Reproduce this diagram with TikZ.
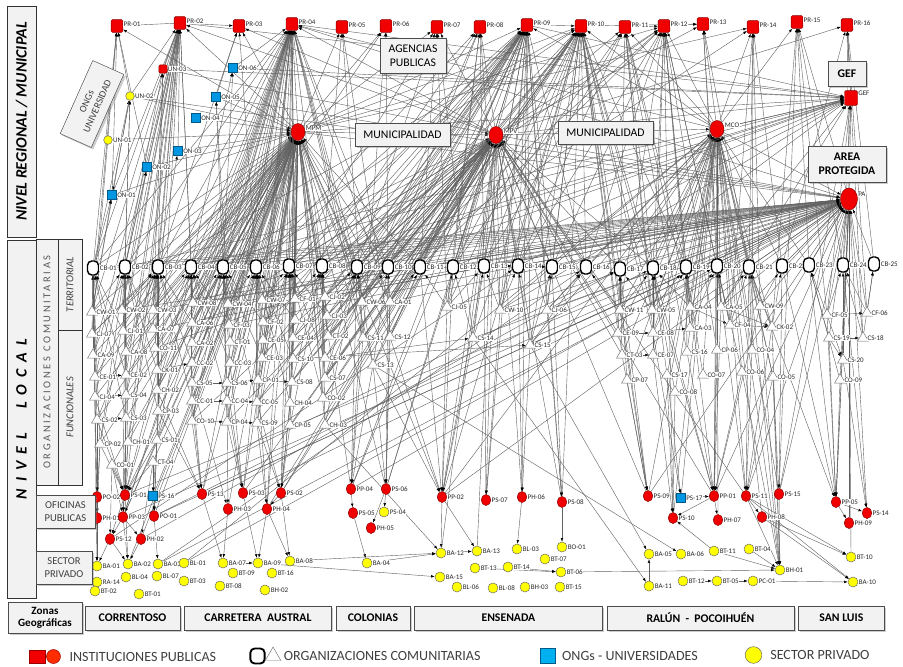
\documentclass[tikz,border=0pt]{standalone}
\usepackage{fontspec}
\setmainfont{Carlito}
\usepackage{tikz}
\usetikzlibrary{arrows.meta,positioning,shapes.geometric,shadows,backgrounds}
\definecolor{instred}{RGB}{240,0,0}
\definecolor{legred}{RGB}{255,45,0}
\definecolor{ongblue}{RGB}{0,150,225}
\definecolor{legblue}{RGB}{0,176,240}
\definecolor{privyellow}{RGB}{255,255,0}
\definecolor{boxgray}{RGB}{242,242,242}
\newcommand{\lblsize}{\fontsize{6}{6}\selectfont}

\begin{document}
\begin{tikzpicture}[x=0.3mm, y=-0.3mm,
  lbl/.style={font=\lblsize, inner sep=0.3pt, fill=white, text=black!85},
  prsq/.style={rectangle, draw=red!55!black, fill=instred, minimum width=3.5mm, minimum height=3.8mm, inner sep=0, rounded corners=0.4mm},
  hub/.style={ellipse, draw=red!55!black, fill=instred, minimum width=4.2mm, minimum height=5.1mm, inner sep=0},
  ofi/.style={ellipse, draw=red!55!black, fill=instred, minimum width=2.9mm, minimum height=3.3mm, inner sep=0},
  ong/.style={rectangle, draw=ongblue!60!black, fill=ongblue, minimum size=2.7mm, inner sep=0},
  priv/.style={circle, draw=black!60, fill=privyellow, minimum size=3mm, inner sep=0},
  cbx/.style={rectangle, draw=black, line width=1.2pt, fill=white, rounded corners=1.3mm, minimum width=3.3mm, minimum height=4.2mm, inner sep=0},
  tri/.style={regular polygon, regular polygon sides=3, draw=black!55, fill=white, minimum size=3.8mm, inner sep=0},
  lnk/.style={draw=black!62, line width=0.35pt, -{Latex[length=1.1mm,width=0.8mm,color=black]}},
  tag/.style={draw=black!70, fill=boxgray, align=center, inner sep=1pt, font=\fontsize{10}{12}\selectfont, drop shadow={shadow xshift=0.6mm, shadow yshift=-0.6mm, opacity=0.4}},
  side/.style={draw=black!80, fill=boxgray, inner sep=0, align=center},
  zone/.style={tag, font=\bfseries\fontsize{10}{12}\selectfont, minimum height=7.2mm},
  legtxt/.style={font=\fontsize{12}{14}\selectfont, text=black!75, inner sep=0}]
\useasboundingbox (0,0) rectangle (903,666);

% regional level
\foreach \n/\x/\y in {01/117/26,02/180/23,03/239/26,04/292/24,05/342/27,06/386/26,07/437/27,08/480/27,
  09/527/25,10/581/26,11/625/27,12/664/26,13/703/24,14/753/27,15/797/22,16/847/25}
  \node[prsq, label={[lbl, yshift=1.5pt]east:PR-\n}] (PR\n) at (\x,\y) {};
\node[prsq, minimum width=2.5mm, minimum height=2.5mm, label={[lbl]east:UN-03}] (UN03) at (163,69) {};
\node[priv, minimum size=2.6mm, label={[lbl]east:UN-02}] (UN02) at (130,96) {};
\node[priv, minimum size=2.6mm, label={[lbl]east:UN-01}] (UN01) at (108,140) {};
\foreach \n/\x/\y in {01/112/195,02/147/167,03/178/151,04/196/118,05/216/97,06/233/68}
  \node[ong, label={[lbl]east:ON-\n}] (ON\n) at (\x,\y) {};
\node[hub, label={[lbl, yshift=3pt]east:MPM}] (MPM) at (298,132) {};
\node[hub, label={[lbl, yshift=3pt]east:MPV}] (MPV) at (496,135) {};
\node[hub, label={[lbl, yshift=3pt]east:MCO}] (MCO) at (717,129) {};
\node[prsq, minimum width=3.9mm, minimum height=4.4mm, label={[lbl, yshift=4pt]east:GEF}] (GEF) at (851,98) {};
\node[hub, minimum width=5.1mm, minimum height=6.6mm, label={[lbl, yshift=4pt]east:PA}] (PA) at (849,199) {};

% local level: territorial
\foreach \n/\x/\y in {01/93/268,02/125/267,03/158/267,04/191/267,05/223/267,06/256/267,07/289/266,
  08/322/266,09/357/267,10/388/267,11/420/267,12/453/267,13/484/266,14/518/266,15/552/267,16/586/267,
  17/620/269,18/653/268,19/686/267,20/717/266,21/749/267,22/782/266,23/809/265,24/843/265,25/874/264}
  \node[cbx, label={[lbl]east:CB-\n}] (CB\n) at (\x,\y) {};

% local level: functional
\foreach \c/\n/\x/\y in {CW/01/92/312,CJ/07/92/334,CA/09/93/355,CE/01/95/377,CJ/04/95/397,CS/02/97/420,CP/02/100/444,
  CW/02/122/310,CJ/01/123/331,CA/08/126/352,CE/02/126/375,CS/04/126/395,CS/03/126/418,CH/01/128/442,
  CW/03/153/310,CA/07/153/329,CO/11/155/348,CK/01/157/370,CH/02/157/390,CP/03/158/411,CS/01/157/440,
  CO/01/112/465,CT/04/153/462,
  CW/08/193/303,CA/06/192/323,CA/02/192/343,CC/02/192/363,CS/05/192/383,CC/01/192/401,CO/10/192/421,
  CW/04/228/304,CF/03/229/325,CT/01/230/342,CC/03/230/363,CS/06/227/383,CC/04/227/401,CP/04/227/422,
  CW/07/262/300,CF/02/263/322,CE/05/263/340,CE/03/262/358,CP/01/258/380,CC/05/257/402,CS/09/257/423,
  CF/01/295/299,CJ/08/295/320,CE/04/293/338,CS/10/293/359,CS/08/292/382,CH/04/290/403,CP/05/290/425,
  CJ/02/325/297,CJ/03/327/316,CT/02/328/336,CE/06/325/358,CS/07/325/378,CO/02/323/398,CH/03/325/425,
  CW/06/362/302,CA/01/390/302,CS/11/363/338,CS/12/390/337,CS/13/373/365,
  CJ/05/447/307,CS/14/473/338,CW/10/500/310,CJ/06/547/310,CS/15/530/345,
  CW/11/620/310,CW/05/652/310,CA/04/690/307,CA/05/721/307,CW/09/760/306,
  CE/09/618/333,CE/08/653/333,CA/03/690/328,CF/04/730/325,CK/02/772/327,
  CT/03/622/355,CE/07/653/355,CS/16/687/352,CP/06/717/350,CO/04/752/350,
  CS/17/667/375,CO/07/703/375,CO/06/742/372,CO/05/773/377,CP/07/627/380,CO/08/675/392,
  CF/05/827/315,CF/06/867/313,CS/19/829/338,CS/18/863/338,CS/20/843/360,CO/09/840/380}
  \node[tri, label={[lbl]east:\c-\n}] (\c\n) at (\x,\y) {};

% public offices
\foreach \c/\n/\x/\y in {PO/02/97/497,PS/01/125/495,PH/01/97/518,PP/03/123/517,PO/01/154/516,PS/12/110/539,
  PH/02/141/539,PS/13/202/494,PS/03/243/493,PS/02/281/493,PH/03/228/509,PH/04/267/509,PP/04/351/489,
  PS/06/386/489,PS/05/353/513,PH/05/371/528,PP/02/442/497,PS/07/486/500,PH/06/522/497,PS/08/562/502,
  PS/09/648/496,PP/01/714/496,PS/11/746/496,PS/15/779/494,PS/10/673/518,PH/07/718/520,PH/08/762/517,
  PP/05/836/502,PS/14/867/513,PH/09/849/523}
  \node[ofi, label={[lbl]east:\c-\n}] (\c\n) at (\x,\y) {};
\node[ong, label={[lbl]east:PS-16}] (PS16) at (153,496) {};
\node[ong, label={[lbl]east:PS-17}] (PS17) at (681,498) {};
\node[priv, label={[lbl]east:PS-04}] (PS04) at (384,512) {};

% private sector
\foreach \c/\n/\x/\y in {BA/01/97/566,BA/02/128/564,BA/03/158/564,BL/01/184/563,BA/07/223/563,BA/09/258/563,
  BA/08/290/561,RA/14/97/582,BL/04/126/577,BL/07/157/576,BT/03/184/581,BT/09/233/573,BT/16/272/573,
  BT/02/95/591,BT/01/139/594,BT/08/220/586,BH/02/265/590,BA/04/367/563,BA/12/441/553,BA/13/477/551,
  BL/03/517/549,BO/01/562/547,BT/07/545/559,BT/13/475/568,BT/14/508/567,BT/06/561/572,BA/15/440/577,
  BL/06/457/587,BL/08/493/588,BH/03/525/587,BT/15/560/587,BA/05/649/554,BA/06/681/554,BT/11/714/551,
  BT/04/749/549,BH/01/780/570,BT/10/851/557,BA/11/649/586,BT/12/683/581,BT/05/717/581,PC/01/753/581,
  BA/10/853/582}
  \node[priv, label={[lbl]east:\c-\n}] (\c\n) at (\x,\y) {};

% labels of the picture
\node[tag, minimum width=19.8mm, minimum height=10.5mm] (agen) at (413,55.5) {AGENCIAS\\PUBLICAS};
\node[tag, minimum width=28.5mm, minimum height=6.9mm] (muni1) at (402.5,134.5) {MUNICIPALIDAD};
\node[tag, minimum width=28.5mm, minimum height=6.9mm] (muni2) at (605.5,132.5) {MUNICIPALIDAD};
\node[tag, font=\bfseries\fontsize{10}{12}\selectfont, minimum width=11.4mm, minimum height=7.5mm] (gefbox) at (847,73.5) {GEF};
\node[tag, font=\bfseries\fontsize{10}{12}\selectfont, minimum width=23.4mm, minimum height=10.8mm] (areabox) at (847,164) {AREA\\PROTEGIDA};
\node[tag, rotate=66, text=black!75, font=\fontsize{8.5}{10}\selectfont, minimum width=24mm, minimum height=10.2mm] (ongbox) at (92,104) {ONGs\\UNIVERSIDAD};

% side column
\node[side, rotate=90, minimum width=69.3mm, minimum height=8.7mm, font=\bfseries\itshape\fontsize{13.5}{14}\selectfont] (nreg) at (21.5,121.5) {NIVEL REGIONAL / MUNICIPAL};
\node[side, rotate=90, minimum width=107.4mm, minimum height=8.7mm, font=\bfseries\itshape\fontsize{13.5}{14}\selectfont\addfontfeature{LetterSpace=45}] (nloc) at (21.5,419) {NIVEL\hspace{4mm} LOCAL};
\node[side, rotate=90, minimum width=73.8mm, minimum height=6.6mm, text=black!65, font=\fontsize{9}{10}\selectfont\addfontfeature{LetterSpace=25}] (norg) at (47,362) {ORGANIZACIONES COMUNITARIAS};
\node[side, rotate=90, minimum width=27.3mm, minimum height=7.2mm, text=black!75, font=\itshape\fontsize{9}{10}\selectfont] (nter) at (70,284.5) {TERRITORIAL};
\node[side, rotate=90, minimum width=46.5mm, minimum height=7.2mm, text=black!75, font=\itshape\fontsize{9}{10}\selectfont] (nfun) at (70,407.5) {FUNCIONALES};
\node[tag, text=black!75, font=\fontsize{9}{10.5}\selectfont, minimum width=17.7mm, minimum height=9.9mm] (nofi) at (65.5,511.5) {OFICINAS\\PUBLICAS};
\node[tag, text=black!75, font=\fontsize{9}{10.5}\selectfont, minimum width=16.8mm, minimum height=9.9mm] (npri) at (64,567.5) {SECTOR\\PRIVADO};

% geographic zones
\node[tag, font=\bfseries\fontsize{9.5}{10.5}\selectfont, minimum width=22.2mm, minimum height=9.3mm] (zonas) at (45,617.5) {Zonas\\Geográficas};
\node[zone, minimum width=28.5mm] (zcor) at (132.5,618) {CORRENTOSO};
\node[zone, minimum width=44.1mm, right=1.2mm of zcor] (zcar) {CARRETERA\ \ AUSTRAL};
\node[zone, minimum width=22.2mm, right=1.2mm of zcar] (zcol) {COLONIAS};
\node[zone, minimum width=56.4mm, right=1.2mm of zcol] (zens) {ENSENADA};
\node[zone, minimum width=56.1mm, right=1.2mm of zens] (zral) {RALÚN\ \ -\ \ POCOIHUÉN};
\node[zone, minimum width=25.8mm, right=1.2mm of zral] (zsan) {SAN LUIS};

% legend
\node[rectangle, fill=instred, draw=red!60!black, minimum width=4.8mm, minimum height=4mm, inner sep=0] (legsq) at (37,656.5) {};
\node[circle, fill=legred, draw=red!60!black, minimum size=4.2mm, inner sep=0, right=0.3mm of legsq] (legci) {};
\node[legtxt, right=2.6mm of legci] (legins) {INSTITUCIONES PUBLICAS};
\node[cbx, line width=1.6pt, minimum width=4.3mm, minimum height=4.5mm] (legcb) at (257.5,656) {};
\node[tri, minimum size=5.4mm, right=0.6mm of legcb] (legtri) {};
\node[legtxt, right=1.5mm of legtri] (legorg) {ORGANIZACIONES COMUNITARIAS};
\node[ong, fill=legblue, minimum size=4.5mm] (legong) at (547.5,656) {};
\node[legtxt, right=2mm of legong] (legongt) {ONGs - UNIVERSIDADES};
\node[priv, minimum size=5mm] (legpriv) at (753.5,655) {};
\node[legtxt, right=2.4mm of legpriv] (legprivt) {SECTOR PRIVADO};

% links: target/{sources}
\begin{scope}[on background layer]
\fill[white] (0,0) rectangle (903,666);
\foreach \t/\srcs in {
  MPM/{CB01,CB02,CB03,CB04,CB05,CB06,CB07,CB08,CB09,CB10,CB11,CW01,CW02,CW03,CW08,CW04,CW07,CF01,CJ07,CJ01,CA07,CA06,CF03,CF02,CJ08,CA09,CA08,CO11,CA02,CT01,CE05,CE04,CE01,CE02,CK01,CC02,CC03,CE03,CS10,CJ04,CS04,CH02,CS05,CS06,CP01,CS08,CS02,CS03,CP03,CC01,CC04,CC05,CH04,CP02,CH01,CS01,CO10,CP04,CS09,CP05,CO01,CT04,CJ02,CJ03,CT02,CE06,CS07,CO02,CH03,CW06,CA01,CS11,CS12,PS01,PP03,PS13,PS03,PS02,PH03,PH04,PO01,PS16,PH02,PP04,PS06,PP02,BA02,UN01,UN02,ON01,ON02,ON03,ON04,ON05},
  MPV/{CB05,CB06,CB07,CB08,CB09,CB10,CB11,CB12,CB13,CB14,CB15,CB16,CB17,CB18,CW04,CW07,CF01,CJ02,CJ03,CT02,CE06,CS07,CH03,CO02,CW06,CA01,CS11,CS12,CS13,CJ05,CS14,CW10,CJ06,CS15,CW11,CE09,CT03,CF02,CE04,CS10,CS08,CP05,CC05,CS09,PP02,PS07,PH06,PS08,PP04,PS06,PS09,PP01,PS02,PS03,PH04,BA12,BA13,PS11,CP04,CO10,MPM,UN03},
  MCO/{CB16,CB17,CB18,CB19,CB20,CB21,CB22,CB23,CW11,CW05,CA04,CA05,CW09,CE09,CE08,CA03,CF04,CK02,CT03,CE07,CS16,CP06,CO04,CS17,CO07,CO06,CO05,CP07,CO08,PS09,PP01,PS11,PS15,PS10,PH07,PH08,BH01,PS17,CJ06,CS15,CW10,MPV,BL01,PP02},
  PA/{CB01,CB02,CB03,CB04,CB05,CB06,CB07,CB08,CB09,CB10,CB11,CB12,CB13,CB14,CB15,CB16,CB17,CB18,CB19,CB20,CB21,CB22,CB23,CB24,CB25,CW02,CW03,CW08,CW04,CA07,CF03,CF01,CJ02,CA01,CJ05,CW10,CJ06,CW11,CW05,CA04,CA05,CW09,CF05,CF06,CS19,CS18,CS20,CO09,CK02,CF04,CS14,CS15,MPM,MPV,MCO,PP05,PS14,PS15,PH09,BT10,PS11,PP01,PS01,PS13,PP03,PS03,PP02,PP04,PS09,UN02,ON05,BA03,PO01},
  GEF/{MPM,MPV,MCO,PA,PR02,PR04,CB04,CB07,CB12,CB14,CB17,CB20,CB24,CW08,CA06,CW10,CA05,CF05,ON06,UN03,CO11,PS15,PR09,CB02},
  PR01/{PR02,ON01,CB01,CW01,UN02,CJ07,MPM,ON02},
  PR02/{UN03,UN02,ON01,ON02,ON03,CB01,CB02,CB03,CW01,CW02,CW03,CA09,CJ01,CE02,CS04,CH01,CS01,MPM,MPV,PS01,CO11,CB04,CW08,CP02,CE01},
  PR03/{MPM,CB03,ON05,CB06,MPV,PR02},
  PR04/{ON06,CB01,CB02,CB03,CB04,CB05,CB06,CB07,CB08,CB09,CB10,MPM,MPV,CW03,CW08,CW04,CW07,CA06,CA02,CC02,CS05,CF03,CT01,CS06,CP01,CE03,CF01,CJ08,CS10,CO10,PS13,PS03,PS02,PH04,PP03,CS01,CH02,CK01,CW06,CA01,CS11,CS13,MCO,PA},
  PR05/{MPM,CB08,CW06,CS12},
  PR06/{MPM,CB05,CB10,CS11},
  PR07/{MPV,CB07,CB09,CB11,CJ05,CS14,MPM},
  PR08/{MPV,CB10,CB12,CB13,CJ05,CW10,CB06,CE05,CS07},
  PR09/{MPV,MPM,CB06,CB07,CB08,CB09,CB10,CB11,CB12,CB13,CB14,CB15,CB16,CJ02,CJ03,CT02,CE06,CW06,CA01,CS12,CS13,CW10,CJ06,CS15,PP02,PS07,PH06,CW07,CF02,CE04,CS08,PP04,PS06,MCO,PS08,CE03,CC05},
  PR10/{PR09,MPV,MPM,MCO,CB09,CB10,CB11,CB12,CB13,CB14,CB15,CB16,CB17,CB18,CB19,CJ05,CS14,CW10,CJ06,CS15,CW11,CE09,CT03,CE08,CW05,PP02,PS08,PS09,PP01,CA01,CS11,CT02,CS07,CO02,CB05,CB03,PS02},
  PR11/{MPV,CB12,CB13,CB17,CB18,CB19,CW05,CE08,CA04,MCO,CS16,CB14},
  PR12/{PR11,MPV,MPM,CB14,CB15,CB16,CB18,CB19,CB20,CW11,CA04,CA03,CF04,CP06,CE07,MCO,PS10,CB11,CB08,CS10},
  PR13/{PR12,PR10,CB20,CB21,MCO,CA05,MPV},
  PR14/{MPM,MCO,CB21,CB22,CF04,CO04,CB10,CW09},
  PR15/{MCO,CB23,CB24,CK02,PA,PS15,CF05},
  PR16/{GEF,PA,CB22,CB25,CF06,MPV,CS18},
  UN02/{CB01,CB02,CW01,CJ01},
  ON01/{UN02,CB01,CW01},
  ON02/{CB02,CW02},
  ON03/{CB03},
  ON05/{CB05,CW04},
  ON06/{CB05,CB04},
  UN03/{CB02,CB03,CW03},
  CB01/{CW01,CJ07,CA09,CE01,CJ04,CS02,CP02,CJ01,CE02,CS03,CB02},
  CB02/{CW02,CJ01,CA08,CE02,CS04,CS03,CH01,CW01,CA09,CJ04,CP02,CA07,CK01,CP03},
  CB03/{CW03,CA07,CO11,CK01,CH02,CP03,CS01,CJ07,CE01,CS02,CW02,CA08,CS04,CH01,CA06,CC02,CC01},
  CB04/{CW08,CA06,CA02,CC02,CS05,CC01,CO10,CW03,CO11,CH02,CS01,CF03,CC03,CC04},
  CB05/{CW04,CF03,CT01,CC03,CS06,CC04,CP04,CW08,CA02,CS05,CO10,CF02,CE03,CC05},
  CB06/{CW07,CF02,CE05,CE03,CP01,CC05,CS09,CW04,CT01,CS06,CP04,CJ08,CS10,CH04},
  CB07/{CF01,CJ08,CE04,CS10,CS08,CH04,CP05,CW07,CE05,CP01,CS09,CJ03,CE06,CO02},
  CB08/{CJ02,CJ03,CT02,CE06,CS07,CO02,CH03,CF01,CE04,CS08,CP05},
  CB09/{CW06,CS11,CS13,CJ02,CT02,CS07,CH03},
  CB10/{CA01,CS12,CS13,CW06},
  CB11/{CJ05,CA01,CS12},
  CB12/{CJ05,CS14},
  CB13/{CS14,CW10,CJ05},
  CB14/{CW10,CB13,CS15,PS12},
  CB15/{CS15,CB14,CJ06},
  CB16/{CJ06,CS15,CW11,BA03},
  CB17/{CW11,CE09,CT03,CP07,CW05,PH02,PS16},
  CB18/{CW05,CE08,CE07,CS17,CO08,CW11,CA04,PO01},
  CB19/{CA04,CA03,CS16,CO07,CW05,CE08},
  CB20/{CA05,CF04,CP06,CO06,CA04,CA03,BL01},
  CB21/{CW09,CK02,CO04,CO05,CA05,CF04},
  CB22/{CW09,CK02},
  CB23/{CF05,CS19,CO09},
  CB24/{CS18,CS20,CF05,CF06},
  CB25/{CF06,CS18},
  CS06/{CS05}, CP01/{CS06}, CS08/{CP01}, CC04/{CC01}, CC05/{CC04}, CP04/{CO10}, CS09/{CP04},
  CE02/{CE01}, CS03/{CS02}, CS04/{CJ04}, CC02/{CK01}, CS15/{CS10}, CS14/{CE06}, CK02/{CF04,CA05},
  CF04/{CA04}, CE08/{CE09}, CE07/{CT03}, CS18/{CS19}, CS20/{CS19,CF05}, CF06/{CF05}, CA03/{CE08},
  PS01/{CP02,CH01,CS01,CO01,CT04,CS03,CS02,CS04,CJ04,CE02,CH02,CK01},
  PP03/{CO01,CH01,CS01,CS03,CP03,CB02},
  PO02/{CP02,CS02,CJ04},
  PH01/{CB01,CP02},
  PS12/{PS01,PP03,CO01},
  PH02/{PP03,CT04},
  PO01/{CT04,CS01,CP03},
  PS16/{CS01,CT04},
  PS13/{CO10,CP03,CC01,CS05,CH02},
  PS03/{CC04,CP04,CS06,CC03},
  PS02/{CP05,CH04,CS09,CC05,CS08},
  PH03/{CS05,CC04},
  PH04/{CS09,PS02,CP01},
  PP04/{CS11,CS13,CB09,CW06},
  PS06/{CA01,CB10,CS12,CS13},
  PS05/{PP04}, PH05/{PS06}, PS04/{PS06},
  PP02/{CB11,CB12,CJ05,CS14,CS13,CS12},
  PS07/{CB13,CW10}, PH06/{CB14,CS15}, PS08/{CB15,CJ06},
  PS09/{CB17,CW11,CT03,CP07},
  PS10/{CE07,CS17,CO08,PP01,BT11},
  PP01/{CB18,CB19,CB20,CW09,CA05,CO06,CP06,CS16,PS17},
  PH07/{PP01},
  PS11/{CB20,CB21,CO04,CO05,CK02},
  PH08/{PS11},
  PS15/{CB22,CO05},
  PP05/{CB21,CB22,CB23,CF05,CS19,CO09,PA},
  PS14/{CB24,CS20,PP05},
  PH09/{PP05},
  PS17/{CE08,CS17},
  BA01/{PS12,PH01,PO02,CB01},
  BA02/{PS12,PP03,PS01,PH02},
  BA03/{PO01},
  BA07/{PS13,PH03},
  BA09/{PS03,PH04,BA07},
  BA08/{PS02,PH04},
  BA12/{BA08,BA04,CH03,PP02},
  BA15/{BA09},
  BA04/{PS05},
  BA13/{PP02,BA12},
  BL03/{PH06},
  BO01/{PS08},
  BT06/{BT13,BT14},
  BH01/{BT06,BT11,BT04,CO05,CO06,CK02,CW09,CB21,PS15,PS11},
  BA05/{BA11,CS15},
  BA06/{CS13},
  BA11/{CS14},
  BT05/{BT12},
  PC01/{BT05},
  BA10/{PC01,PS11,PH08},
  BT10/{PS11,PH08}}
  {\foreach \s in \srcs \draw[lnk] (\s) -- (\t);}
\end{scope}
\end{tikzpicture}
\end{document}
